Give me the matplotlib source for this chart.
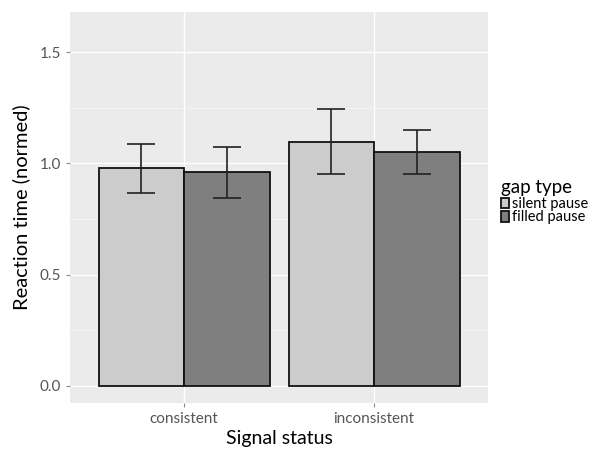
import numpy as np
import matplotlib.pyplot as plt

plt.rcParams['font.family'] = ['Lato', 'DejaVu Sans']

status = ['consistent', 'inconsistent']
gap_types = ['silent pause', 'filled pause']
means = {
    'silent pause': [0.98, 1.098],
    'filled pause': [0.96, 1.053],
}
lower = {
    'silent pause': [0.867, 0.954],
    'filled pause': [0.846, 0.951],
}
upper = {
    'silent pause': [1.089, 1.243],
    'filled pause': [1.074, 1.152],
}
fills = {'silent pause': '#cccccc', 'filled pause': '#7f7f7f'}

fig = plt.figure(figsize=(6.01, 4.54), dpi=100)
ax = fig.add_axes([70 / 601, 1 - 403 / 454, 418 / 601, 391 / 454])
ax.set_facecolor('#ebebeb')

x = np.arange(1, len(status) + 1)
width = 0.45
handles = []
for i, g in enumerate(gap_types):
    pos = x + (i - 0.5) * width
    m = np.array(means[g])
    b = ax.bar(pos, m, width=width, color=fills[g], edgecolor='#111111',
               linewidth=1.3, zorder=3, label=g)
    handles.append(b)
    yerr = [m - np.array(lower[g]), np.array(upper[g]) - m]
    ax.errorbar(pos, m, yerr=yerr, fmt='none', ecolor='#222222',
                elinewidth=1.2, capsize=10, capthick=1.2, zorder=4)

ax.set_xlim(0.4, 2.6)
ax.set_ylim(-0.078, 1.681)
ax.set_xticks(x)
ax.set_xticklabels(status)
ax.set_yticks([0.0, 0.5, 1.0, 1.5])
ax.set_yticklabels(['0.0', '0.5', '1.0', '1.5'])
ax.set_yticks([0.25, 0.75, 1.25], minor=True)
ax.grid(True, which='major', color='white', linewidth=1.0, zorder=0)
ax.grid(True, which='minor', axis='y', color='#f5f5f5', linewidth=0.6, zorder=0)
ax.set_axisbelow(True)
for s in ax.spines.values():
    s.set_visible(False)
ax.tick_params(axis='both', which='major', colors='#8a8a8a', labelcolor='#555555',
               labelsize=11, length=3, width=0.8)
ax.tick_params(axis='both', which='minor', length=0)

ax.set_xlabel('Signal status', fontsize=14, color='black', labelpad=3)
ax.set_ylabel('Reaction time (normed)', fontsize=14.5, color='black', labelpad=7)

leg = ax.legend(handles=handles, labels=gap_types, title='gap type',
                loc='center left', bbox_to_anchor=(1.03, 0.515), frameon=False,
                fontsize=10.5, title_fontsize=13.5, handlelength=0.6, handleheight=0.75,
                handletextpad=0.2, labelspacing=-0.05, borderpad=0, borderaxespad=0)
leg._legend_box.align = 'left'
leg._legend_box.sep = 1

fig.savefig('out.png', dpi=100)
